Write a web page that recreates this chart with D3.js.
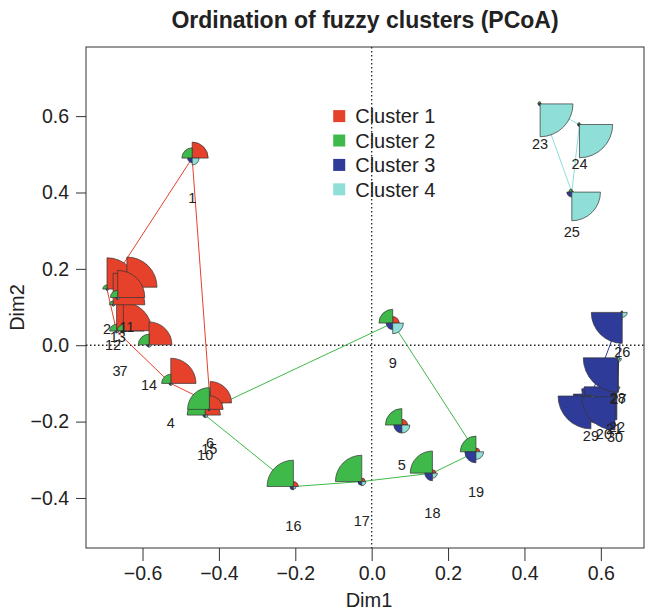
<!DOCTYPE html>
<html>
<head>
<meta charset="utf-8">
<script src="https://cdn.jsdelivr.net/npm/d3@7"></script>
<style>
  body { margin: 0; background: #fff; }
  text { font-family: "Liberation Sans", Arial, Helvetica, sans-serif; fill: #222; }
</style>
</head>
<body>
<svg id="chart" width="646" height="612"></svg>
<script>
// Sites (site 8 absent) with their PCoA scores
const sites = ["1","2","3","4","5","6","7","9","10","11","12","13","14","15","16","17","18","19","20","21","22","23","24","25","26","27","28","29","30"];
const dim1 = [-0.470,-0.693,-0.668,-0.526,0.079,-0.423,-0.650,0.055,-0.436,-0.641,-0.677,-0.665,-0.583,-0.425,-0.205,-0.026,0.159,0.273,0.608,0.634,0.642,0.441,0.544,0.524,0.656,0.646,0.644,0.574,0.637];
const dim2 = [0.490,0.147,0.037,-0.100,-0.209,-0.151,0.038,0.058,-0.183,0.152,0.106,0.125,0.001,-0.168,-0.370,-0.357,-0.335,-0.279,-0.128,-0.114,-0.109,0.632,0.578,0.401,0.086,-0.035,-0.033,-0.133,-0.135];

// Fuzzy membership of each site in the four clusters
const member1 = [0.42,0.82,0.72,0.66,0.15,0.56,0.74,0.17,0.40,0.79,0.83,0.71,0.60,0.36,0.13,0.09,0.09,0.10,0.02,0.02,0.02,0.03,0.03,0.04,0.02,0.01,0.01,0.02,0.02];
const member2 = [0.27,0.11,0.18,0.24,0.43,0.30,0.16,0.36,0.47,0.13,0.10,0.19,0.28,0.57,0.69,0.69,0.58,0.41,0.05,0.05,0.04,0.06,0.05,0.08,0.04,0.03,0.03,0.04,0.04];
const member3 = [0.12,0.03,0.05,0.05,0.21,0.07,0.05,0.17,0.06,0.04,0.03,0.05,0.06,0.04,0.09,0.10,0.20,0.29,0.80,0.84,0.86,0.05,0.05,0.13,0.81,0.88,0.90,0.86,0.87];
const member4 = [0.18,0.04,0.05,0.05,0.21,0.07,0.05,0.28,0.07,0.04,0.04,0.05,0.06,0.03,0.07,0.11,0.13,0.20,0.13,0.09,0.08,0.86,0.87,0.75,0.13,0.08,0.06,0.08,0.07];

const clusterNames = ["Cluster 1","Cluster 2","Cluster 3","Cluster 4"];
const xTicks = [-0.6,-0.4,-0.2,0.0,0.2,0.4,0.6];
const yTicks = [-0.4,-0.2,0.0,0.2,0.4,0.6];

// Drawing styles
const colors = ["#e5412b","#3fb94a","#2e3b98","#8fded7"];
const segLen = 0.1;      // star radius for a membership of 1 (data units)
const labelDrop = 0.104; // site labels sit this far below their star

const svg = d3.select("#chart");
const box = {left: 86, right: 644, top: 47, bottom: 548};

const x = d3.scaleLinear().domain([-0.748, 0.713]).range([box.left, box.right]);
const y = d3.scaleLinear().domain([-0.531, 0.781]).range([box.bottom, box.top]);
const unit = x(segLen) - x(0);

const rows = sites.map((s, i) => ({
  site: s, x: dim1[i], y: dim2[i],
  m: [member1[i], member2[i], member3[i], member4[i]]
}));
rows.forEach(r => { r.cluster = r.m.indexOf(d3.max(r.m)); });

// Title
svg.append("text").attr("x", 365).attr("y", 28).attr("text-anchor", "middle")
  .style("font-size", "23px").style("font-weight", "bold").text("Ordination of fuzzy clusters (PCoA)");

// Axes
const fmt = d => d3.format(".1f")(d).replace("-", "\u2013");
const xAxis = svg.append("g").attr("transform", `translate(0,${box.bottom})`)
  .call(d3.axisBottom(x).tickValues(xTicks).tickSize(13).tickPadding(5).tickFormat(fmt));
const yAxis = svg.append("g").attr("transform", `translate(${box.left},0)`)
  .call(d3.axisLeft(y).tickValues(yTicks).tickSize(10).tickPadding(7).tickFormat(fmt));
[xAxis, yAxis].forEach(g => {
  g.select(".domain").remove();
  g.selectAll(".tick line").attr("stroke", "#333");
  g.selectAll(".tick text").style("font-size", "19.5px").attr("fill", "#222")
    .style("font-family", "'Liberation Sans', Arial, sans-serif");
});
svg.append("text").attr("x", 369).attr("y", 607).attr("text-anchor", "middle")
  .style("font-size", "20px").text("Dim1");
svg.append("text").attr("transform", `translate(24,${(box.top + box.bottom) / 2 + 10}) rotate(-90)`)
  .attr("text-anchor", "middle").style("font-size", "20px").text("Dim2");

// Clip region
svg.append("clipPath").attr("id", "plotclip").append("rect")
  .attr("x", box.left).attr("y", box.top).attr("width", box.right - box.left).attr("height", box.bottom - box.top);
const plot = svg.append("g").attr("clip-path", "url(#plotclip)");

// Dotted reference lines through the origin
plot.append("line").attr("x1", box.left).attr("x2", box.right).attr("y1", y(0)).attr("y2", y(0))
  .attr("stroke", "#222").attr("stroke-width", 1.3).attr("stroke-dasharray", "1.5,2.5");
plot.append("line").attr("y1", box.top).attr("y2", box.bottom).attr("x1", x(0)).attr("x2", x(0))
  .attr("stroke", "#222").attr("stroke-width", 1.3).attr("stroke-dasharray", "1.5,2.5");

// Convex hull of each cluster's hard members
clusterNames.forEach((name, k) => {
  const pts = rows.filter(r => r.cluster === k).map(r => [x(r.x), y(r.y)]);
  const hull = pts.length >= 3 ? d3.polygonHull(pts) : pts;
  if (!hull) return;
  plot.append("path").attr("d", d3.line()(hull.concat([hull[0]])))
    .attr("fill", "none").attr("stroke", colors[k]).attr("stroke-width", 1);
});

// Segment stars: one quarter per cluster, radius proportional to membership
// (cluster 1 upper right, 2 upper left, 3 lower left, 4 lower right)
const quarters = [[0, Math.PI / 2], [-Math.PI / 2, 0], [Math.PI, 1.5 * Math.PI], [Math.PI / 2, Math.PI]];
const arc = d3.arc().innerRadius(0);
rows.forEach(r => {
  const g = plot.append("g").attr("transform", `translate(${x(r.x)},${y(r.y)})`);
  r.m.forEach((v, k) => {
    g.append("path")
      .attr("d", arc({outerRadius: v * unit, startAngle: quarters[k][0], endAngle: quarters[k][1]}))
      .attr("fill", colors[k]).attr("stroke", "#333").attr("stroke-width", 0.7);
  });
});

// Site labels
plot.selectAll("text.site").data(rows).join("text").attr("class", "site")
  .attr("x", d => x(d.x)).attr("y", d => y(d.y - labelDrop)).attr("dy", "0.36em")
  .attr("text-anchor", "middle").style("font-size", "14.5px").text(d => d.site);

// Legend
const lg = svg.append("g").attr("transform", `translate(${x(-0.085)},${y(0.6)})`);
clusterNames.forEach((name, k) => {
  lg.append("rect").attr("x", -6).attr("y", k * 24.4 - 6).attr("width", 12).attr("height", 12).attr("fill", colors[k]);
  lg.append("text").attr("x", 16).attr("y", k * 24.4).attr("dy", "0.36em").style("font-size", "20px").text(name);
});

// Frame
svg.append("rect").attr("x", box.left).attr("y", box.top).attr("width", box.right - box.left)
  .attr("height", box.bottom - box.top).attr("fill", "none").attr("stroke", "#333").attr("stroke-width", 1);
</script>
</body>
</html>
